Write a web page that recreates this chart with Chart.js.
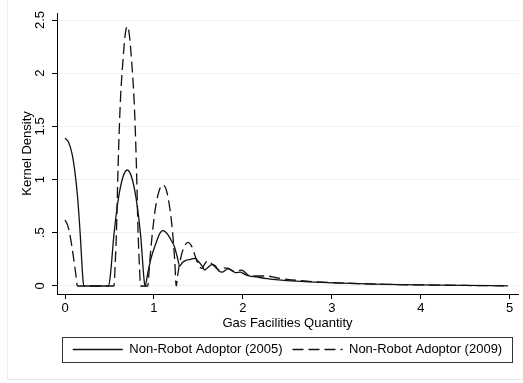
<!DOCTYPE html>
<html>
<head>
<meta charset="utf-8">
<script src="https://cdn.jsdelivr.net/npm/chart.js@4/dist/chart.umd.min.js"></script>
<style>
  body { margin: 0; background: #fff; }
  #wrap { width: 523px; height: 383px; }
</style>
</head>
<body>
<div id="wrap"><canvas id="densChart"></canvas></div>
<script>
// Kernel density, non-robot adoptors
const xs2005 = [0, 0.04, 0.08, 0.11, 0.14, 0.17, 0.2, 0.21, 0.49, 0.51, 0.55, 0.6, 0.65, 0.7, 0.75, 0.8, 0.85, 0.89, 0.9,
    0.93, 0.97, 1.03, 1.07, 1.1, 1.15, 1.2, 1.23, 1.26, 1.29, 1.32, 1.36, 1.41, 1.46, 1.5, 1.54, 1.57, 1.6, 1.65, 1.69,
    1.73, 1.77, 1.83, 1.87, 1.92, 1.97, 2.02, 2.07, 2.15, 2.27, 2.4, 2.6, 2.8, 3.0, 3.3, 3.6, 4.0, 4.5, 4.98];
const dens2005 = [1.39, 1.35, 1.24, 1.08, 0.85, 0.5, 0.08, 0, 0, 0.1, 0.48, 0.82, 1.02, 1.09, 1.02, 0.82, 0.48, 0.05, 0,
    0.12, 0.27, 0.42, 0.5, 0.52, 0.49, 0.42, 0.37, 0.28, 0.19, 0.22, 0.24, 0.25, 0.26, 0.23, 0.19, 0.15, 0.17, 0.2, 0.19,
    0.14, 0.13, 0.16, 0.15, 0.125, 0.13, 0.11, 0.095, 0.085, 0.07, 0.058, 0.045, 0.036, 0.03, 0.022, 0.016, 0.01, 0.005, 0.002];

const xs2009 = [0, 0.03, 0.06, 0.09, 0.12, 0.14, 0.55, 0.565, 0.58, 0.59, 0.605, 0.625, 0.65, 0.675, 0.7, 0.725,
    0.75, 0.775, 0.795, 0.81, 0.82, 0.835, 0.85, 0.93, 0.95, 0.98, 1.02, 1.06, 1.1, 1.14, 1.18, 1.21, 1.235,
    1.25, 1.27, 1.3, 1.34, 1.385, 1.42, 1.46, 1.5, 1.54, 1.58, 1.61, 1.65, 1.7, 1.74, 1.79, 1.84, 1.89, 1.94, 1.99, 2.04,
    2.1, 2.2, 2.28, 2.36, 2.5, 2.65, 2.8, 3.0, 3.3, 3.6, 4.0, 4.5, 4.98];
const dens2009 = [0.62, 0.57, 0.46, 0.3, 0.12, 0, 0, 0.22, 0.55, 0.9, 1.35, 1.78, 2.1, 2.35, 2.44, 2.35,
    2.1, 1.78, 1.35, 0.9, 0.55, 0.22, 0, 0, 0.2, 0.48, 0.75, 0.9, 0.95, 0.9, 0.72, 0.5, 0.22,
    0, 0.12, 0.26, 0.37, 0.41, 0.38, 0.29, 0.2, 0.165, 0.22, 0.235, 0.21, 0.17, 0.15, 0.17, 0.166, 0.14, 0.145, 0.15, 0.115,
    0.097, 0.094, 0.093, 0.08, 0.062, 0.05, 0.04, 0.032, 0.023, 0.016, 0.01, 0.005, 0.002];

const seriesLabels = ['Non-Robot Adoptor (2005)', 'Non-Robot Adoptor (2009)'];
const xTicks = [0, 1, 2, 3, 4, 5];
const yTicks = [0, 0.5, 1, 1.5, 2, 2.5];

const FONT = { family: "'Liberation Sans', Arial, sans-serif", size: 13 };
const LINE_W = 1.3;

const toPoints = (xs, ys) => xs.map((x, i) => ({ x: x, y: ys[i] }));

// white page, light outer frame, box round the legend
const framePlugin = {
    id: 'frames',
    beforeDraw(chart) {
        const ctx = chart.ctx;
        ctx.save();
        ctx.fillStyle = '#fff';
        ctx.fillRect(0, 0, chart.width, chart.height);
        ctx.strokeStyle = '#e6eef0';
        ctx.lineWidth = 1;
        ctx.beginPath();
        ctx.moveTo(7.5, 0);
        ctx.lineTo(7.5, 379.5);
        ctx.lineTo(chart.width, 379.5);
        ctx.stroke();
        ctx.restore();
    },
    afterDraw(chart) {
        const lg = chart.legend;
        const area = chart.chartArea;
        const ctx = chart.ctx;
        ctx.save();
        ctx.strokeStyle = '#333';
        ctx.lineWidth = 1;
        ctx.strokeRect(Math.round(area.left + 5) + 0.5, Math.round(lg.top + 4) + 0.5,
            Math.round(area.right - area.left - 11), 25);
        ctx.restore();
    }
};

const ctx = document.getElementById('densChart').getContext('2d');
new Chart(ctx, {
    type: 'line',
    data: {
        datasets: [
            {
                label: seriesLabels[0],
                data: toPoints(xs2005, dens2005),
                borderColor: '#111',
                borderWidth: LINE_W,
                pointRadius: 0,
                pointStyle: 'line',
                cubicInterpolationMode: 'monotone',
                fill: false
            },
            {
                label: seriesLabels[1],
                data: toPoints(xs2009, dens2009),
                borderColor: '#111',
                borderWidth: LINE_W,
                borderDash: [11, 5],
                pointRadius: 0,
                pointStyle: 'line',
                cubicInterpolationMode: 'monotone',
                fill: false
            }
        ]
    },
    options: {
        responsive: true,
        maintainAspectRatio: false,
        animation: false,
        layout: { padding: { left: 0, right: 5, top: 13, bottom: 17 } },
        plugins: {
            tooltip: { enabled: false },
            legend: {
                position: 'bottom',
                fullSize: false,
                labels: {
                    usePointStyle: true,
                    pointStyleWidth: 50,
                    padding: 10,
                    color: '#000',
                    font: FONT,
                    // point style drops the dash, so copy it from the dataset
                    generateLabels: chart => Chart.defaults.plugins.legend.labels.generateLabels(chart)
                        .map(item => Object.assign(item, {
                            lineDash: chart.data.datasets[item.datasetIndex].borderDash || [],
                            lineWidth: LINE_W,
                            strokeStyle: '#111'
                        }))
                }
            }
        },
        scales: {
            x: {
                type: 'linear',
                min: -0.09,
                max: 5.093,
                afterBuildTicks: s => { s.ticks = xTicks.map(v => ({ value: v })); },
                afterFit: s => { s.height = 39; },
                grid: { drawOnChartArea: false, drawTicks: true, tickLength: 5, tickColor: '#000' },
                border: { color: '#000', width: 1 },
                ticks: { color: '#000', font: FONT, padding: 2, maxRotation: 0, autoSkip: false },
                title: { display: true, text: 'Gas Facilities Quantity', color: '#000', font: FONT,
                    padding: { top: 0, bottom: 2 } }
            },
            y: {
                type: 'linear',
                min: -0.0752,
                max: 2.5658,
                afterBuildTicks: s => { s.ticks = yTicks.map(v => ({ value: v })); },
                afterFit: s => { s.width = 57; },
                grid: { color: '#eaf2f3', lineWidth: 1, drawTicks: true, tickLength: 5, tickColor: '#000' },
                border: { color: '#000', width: 1 },
                ticks: {
                    color: '#000',
                    font: FONT,
                    padding: 3,
                    minRotation: 90,
                    maxRotation: 90,
                    crossAlign: 'center',
                    callback: v => (v === 0 ? '0' : String(v).replace(/^0\./, '.'))
                },
                title: { display: true, text: 'Kernel Density', color: '#000', font: FONT,
                    padding: { top: 20, bottom: 0 } }
            }
        }
    },
    plugins: [framePlugin]
});
</script>
</body>
</html>
